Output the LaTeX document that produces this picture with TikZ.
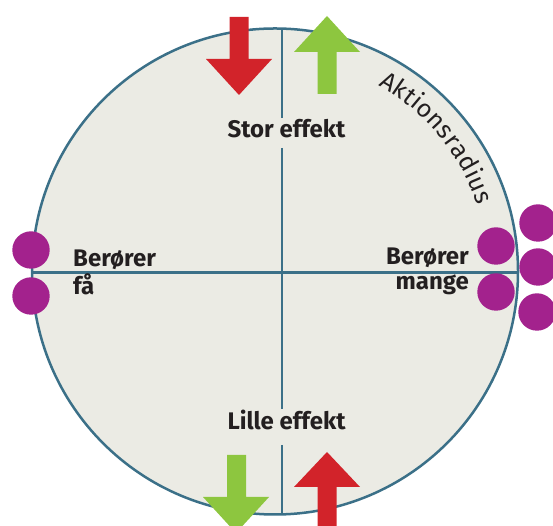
\documentclass[tikz,border=0pt]{standalone}
\usepackage{fontspec}
\setmainfont{Fira Sans}
\usetikzlibrary{calc,decorations.text}
\definecolor{disc}{HTML}{EBEBE4}
\definecolor{rim}{HTML}{3B7088}
\definecolor{arrred}{HTML}{D2232A}
\definecolor{arrgreen}{HTML}{8DC63F}
\definecolor{dot}{HTML}{A3228D}
\definecolor{ink}{HTML}{231F20}
\tikzset{
  axis/.style={draw=rim, line width=2.2pt},
  redarrow/.style={fill=arrred},
  greenarrow/.style={fill=arrgreen},
  dotstyle/.style={fill=dot},
  lbl/.style={inner sep=0pt, text=ink, font=\bfseries\fontsize{24}{26}\selectfont},
}
\begin{document}
\begin{tikzpicture}[x=1pt,y=1pt]
\useasboundingbox (0,0) rectangle (553,526);
\clip (0,0) rectangle (553,526);
\coordinate (C) at (275,254.5);
% disc
\draw[fill=disc, draw=rim, line width=2.5pt] (C) circle[radius=243pt];
% axes
\coordinate (vt) at (282,497.4);
\coordinate (v1) at (282,408);
\coordinate (v2) at (282,378);
\coordinate (v3) at (282,117);
\coordinate (v4) at (282,81);
\coordinate (vb) at (282,11.6);
\coordinate (hl) at (32,253.5);
\coordinate (hr) at (518,253.5);
\draw[axis] (vt) -- (v1);
\draw[axis] (v2) -- (v3);
\draw[axis] (v4) -- (vb);
\draw[axis] (hl) -- (hr);
% arrows
\path[redarrow] (229.5,509) -- (248.5,509) -- (248.5,467) -- (272,467) -- (239,431) -- (206,467) -- (229.5,467) -- cycle;
\path[greenarrow] (327,510) -- (360,474) -- (336.5,474) -- (336.5,432) -- (317.5,432) -- (317.5,474) -- (294,474) -- cycle;
\path[greenarrow] (227,71) -- (246,71) -- (246,29) -- (269,29) -- (236,-7) -- (203,29) -- (227,29) -- cycle;
\path[redarrow] (327,74) -- (360,39) -- (336.5,39) -- (336.5,-10) -- (317.5,-10) -- (317.5,39) -- (294,39) -- cycle;
% dots
\foreach \p in {(31,276),(31,230),(496,280),(496,234),(538,303),(538,259),(537,214)}
  \path[dotstyle] \p circle[radius=18.7pt];
% labels
\node[lbl, anchor=base] (stor) at (286.5,388) {Stor effekt};
\node[lbl, anchor=base] (lille) at (286.5,96) {Lille effekt};
\node[lbl, anchor=base west] (bl1) at (73,259) {Berører};
\node[lbl, anchor=base west] (bl2) at (73,231) {få};
\node[lbl, anchor=base east] (br1) at (469,261) {Berører};
\node[lbl, anchor=base east] (br2) at (469,236) {mange};
% curved label
\path[decorate, decoration={text along path, text align=fit to path,
  text={|\fontsize{25}{27}\selectfont\color{ink}|Aktionsradius}}]
  ($(C)+(61:213pt)$) arc[start angle=61, end angle=18, radius=213pt];
\end{tikzpicture}
\end{document}
